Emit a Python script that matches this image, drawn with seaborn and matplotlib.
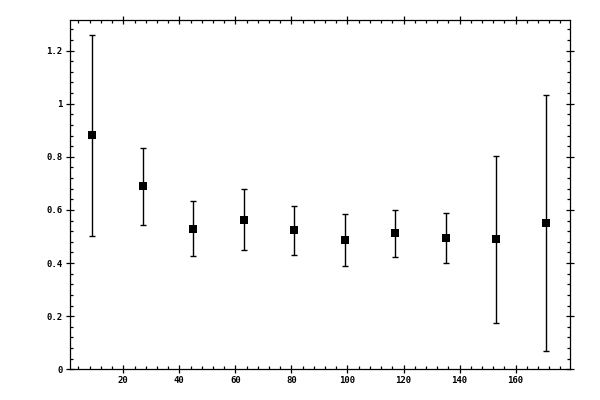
import matplotlib
matplotlib.use("Agg")
import matplotlib.pyplot as plt
import seaborn as sns
import pandas as pd
from matplotlib.ticker import MultipleLocator, FuncFormatter

x_vals = [9, 27, 45, 63, 81, 99, 117, 135, 153, 171]
y_vals = [0.881, 0.690, 0.529, 0.563, 0.523, 0.486, 0.512, 0.493, 0.490, 0.550]
y_err = [0.378, 0.145, 0.104, 0.115, 0.091, 0.098, 0.089, 0.094, 0.314, 0.482]

df = pd.DataFrame({"x": x_vals, "y": y_vals, "err": y_err})

sns.set_theme(style="ticks")
plt.rcParams["font.family"] = ["DejaVu Sans Mono", "DejaVu Sans"]

fig = plt.figure(figsize=(6, 4), dpi=100)
ax = fig.add_axes([69.5 / 600, 1 - 369.3 / 400, (570 - 69.5) / 600, (369.3 - 19.5) / 400])

ax.errorbar(df["x"], df["y"], yerr=df["err"], fmt="none", ecolor="black",
            elinewidth=1.0, capsize=2.5, capthick=1.0, zorder=2)
sns.scatterplot(data=df, x="x", y="y", marker="s", s=27, color="black",
                edgecolor="black", linewidth=0, ax=ax, zorder=3)

ax.set_xlim(0.8, 179.4)
ax.set_ylim(0, 1.317)
ax.set_xlabel("")
ax.set_ylabel("")

ax.xaxis.set_major_locator(MultipleLocator(20))
ax.xaxis.set_minor_locator(MultipleLocator(4))
ax.yaxis.set_major_locator(MultipleLocator(0.2))
ax.yaxis.set_minor_locator(MultipleLocator(0.04))
ax.yaxis.set_major_formatter(FuncFormatter(lambda v, p: "%g" % round(v, 2)))
ax.xaxis.set_major_formatter(FuncFormatter(lambda v, p: "%g" % v if v > 0 else ""))

for s in ax.spines.values():
    s.set_visible(True)
    s.set_linewidth(0.9)
    s.set_color("black")

ax.tick_params(which="major", direction="inout", length=6, width=0.9,
               top=True, right=True, labelsize=6.5, colors="black", pad=2)
ax.tick_params(which="minor", direction="in", length=2.3, width=0.9,
               top=True, right=True, colors="black")
for lab in ax.get_xticklabels() + ax.get_yticklabels():
    lab.set_fontweight("bold")
ax.grid(False)

fig.savefig("out.png", dpi=100, facecolor="white")
